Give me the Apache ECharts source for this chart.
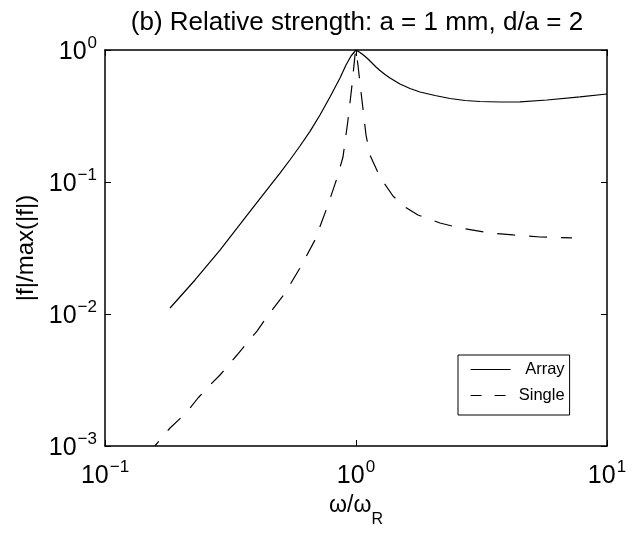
<!DOCTYPE html>
<html>
<head>
<meta charset="utf-8">
<script src="https://cdn.jsdelivr.net/npm/echarts@6/dist/echarts.min.js"></script>
<style>
  html, body { margin: 0; padding: 0; background: #fff; }
  #chart { width: 638px; height: 540px; }
</style>
</head>
<body>
<div id="chart"></div>
<script>
// Normalised frequency ω/ω_R and relative strength |f|/max(|f|)
const omegaArray = [0.1816, 0.2284, 0.2872, 0.3612, 0.4542, 0.4980, 0.5461, 0.5981, 0.6557, 0.7187, 0.7877,
  0.8635, 0.9124, 0.9552, 1.0,
  1.0374, 1.0761, 1.1165, 1.1581, 1.2014, 1.2460, 1.3047, 1.3659, 1.497, 1.641, 1.799, 2.064, 2.368,
  2.718, 3.119, 3.748, 4.502, 5.77, 7.80, 10.0];
const strengthArray = [0.0111, 0.0181, 0.0305, 0.0534, 0.0933, 0.1168, 0.1474, 0.1874, 0.2421, 0.3218, 0.4405,
  0.6136, 0.7697, 0.9006, 1.0,
  0.9573, 0.9085, 0.8546, 0.7970, 0.7434, 0.6994, 0.6523, 0.6136, 0.5527, 0.5109, 0.4806, 0.4519, 0.4291,
  0.4145, 0.4073, 0.4037, 0.4051, 0.418, 0.441, 0.464];

const omegaSingle = [0.158, 0.1816, 0.2122, 0.2347, 0.2573, 0.2872, 0.3357, 0.3679, 0.4033, 0.4418, 0.5215,
  0.5981, 0.6866, 0.7733, 0.8401, 0.8876, 0.9292, 0.964, 0.991, 1.0,
  1.018, 1.056, 1.096, 1.137, 1.246, 1.404, 1.567, 1.766, 2.161, 2.596, 3.42, 4.22, 5.41, 7.25];
const strengthSingle = [0.001, 0.001369, 0.00181, 0.00231, 0.0028, 0.00345, 0.00489, 0.00603, 0.00743, 0.0095, 0.0144,
  0.0223, 0.0364, 0.067, 0.1072, 0.1547, 0.295, 0.543, 0.917, 1.0,
  0.77, 0.418, 0.227, 0.160, 0.109, 0.0783, 0.0647, 0.0562, 0.0489, 0.0448, 0.0411, 0.0397, 0.0383, 0.0377];

const seriesNames = ['Array', 'Single'];
const titleText = '(b) Relative strength: a = 1 mm, d/a = 2';
const yLabel = '|f|/max(|f|)';

const FONT = 'Liberation Sans, Arial, Helvetica, sans-serif';
const pairs = (xs, ys) => xs.map((x, i) => [x, ys[i]]);

// "10" with a raised exponent for log tick labels
const powerLabel = v => {
  const e = Math.round(Math.log10(v));
  return '{b|10}{e|' + String(e).replace('-', '\u2212') + '}';
};
const powerRich = {
  b: { fontSize: 25, fontFamily: FONT, color: '#000', lineHeight: 30, verticalAlign: 'bottom' },
  e: { fontSize: 17, fontFamily: FONT, color: '#000', lineHeight: 17, verticalAlign: 'top', padding: [0, 0, 0, 1] }
};

const frameLine = { show: true, lineStyle: { color: '#000', width: 1.5 } };
const innerTick = { show: true, inside: true, length: 6, lineStyle: { color: '#000', width: 1 } };

const chart = echarts.init(document.getElementById('chart'), null, { renderer: 'canvas' });
chart.setOption({
  backgroundColor: '#fff',
  animation: false,
  title: {
    text: titleText,
    left: 352,
    textAlign: 'center',
    top: 5,
    textStyle: { fontFamily: FONT, fontSize: 26, fontWeight: 'normal', color: '#000' }
  },
  grid: { left: 105, right: 31, top: 50, bottom: 94 },
  legend: {
    orient: 'vertical',
    left: 458,
    top: 355,
    backgroundColor: '#fff',
    borderColor: '#000',
    borderWidth: 1,
    padding: [6, 5, 11, 12],
    itemGap: 9,
    itemWidth: 40,
    itemHeight: 14,
    itemTextGap: 8,
    itemStyle: { opacity: 0 },
    lineStyle: { width: 1.2, color: '#000' },
    data: [
      { name: seriesNames[0] },
      { name: seriesNames[1], lineStyle: { type: [11, 13], dashOffset: 0, width: 1.2 } }
    ],
    formatter: name => '{t|' + name + '}',
    textStyle: {
      rich: { t: { fontFamily: FONT, fontSize: 16.5, color: '#000', width: 49, align: 'right', lineHeight: 18 } }
    }
  },
  xAxis: [
    {
      type: 'log', logBase: 10, min: 0.1, max: 10,
      position: 'bottom',
      name: '{a|\u03c9/\u03c9}{s|R}',
      nameLocation: 'middle',
      nameGap: 42,
      nameTextStyle: {
        rich: {
          a: { fontFamily: FONT, fontSize: 23, color: '#000', lineHeight: 28, verticalAlign: 'top' },
          s: { fontFamily: FONT, fontSize: 16, color: '#000', lineHeight: 16, verticalAlign: 'bottom', padding: [0, 0, -6, 0] }
        }
      },
      axisLine: frameLine,
      axisTick: innerTick,
      minorTick: { show: false },
      splitLine: { show: false },
      axisLabel: { formatter: powerLabel, rich: powerRich, margin: 13 }
    },
    {
      type: 'log', logBase: 10, min: 0.1, max: 10,
      position: 'top',
      axisLine: frameLine,
      axisTick: innerTick,
      splitLine: { show: false },
      axisLabel: { show: false }
    }
  ],
  yAxis: [
    {
      type: 'log', logBase: 10, min: 0.001, max: 1,
      position: 'left',
      name: yLabel,
      nameLocation: 'middle',
      nameRotate: 90,
      nameGap: 60,
      nameTextStyle: { fontFamily: FONT, fontSize: 24, color: '#000' },
      axisLine: frameLine,
      axisTick: innerTick,
      splitLine: { show: false },
      axisLabel: { formatter: powerLabel, rich: powerRich, margin: 8 }
    },
    {
      type: 'log', logBase: 10, min: 0.001, max: 1,
      position: 'right',
      axisLine: frameLine,
      axisTick: innerTick,
      splitLine: { show: false },
      axisLabel: { show: false }
    }
  ],
  series: [
    {
      name: seriesNames[0],
      type: 'line',
      data: pairs(omegaArray, strengthArray),
      symbol: 'none',
      clip: true,
      lineStyle: { color: '#000', width: 1.2, type: 'solid' },
      itemStyle: { color: '#000' }
    },
    {
      name: seriesNames[1],
      type: 'line',
      data: pairs(omegaSingle, strengthSingle),
      symbol: 'none',
      clip: true,
      lineStyle: { color: '#000', width: 1.2, type: [18, 14], dashOffset: 12 },
      itemStyle: { color: '#000' }
    }
  ]
});
</script>
</body>
</html>
